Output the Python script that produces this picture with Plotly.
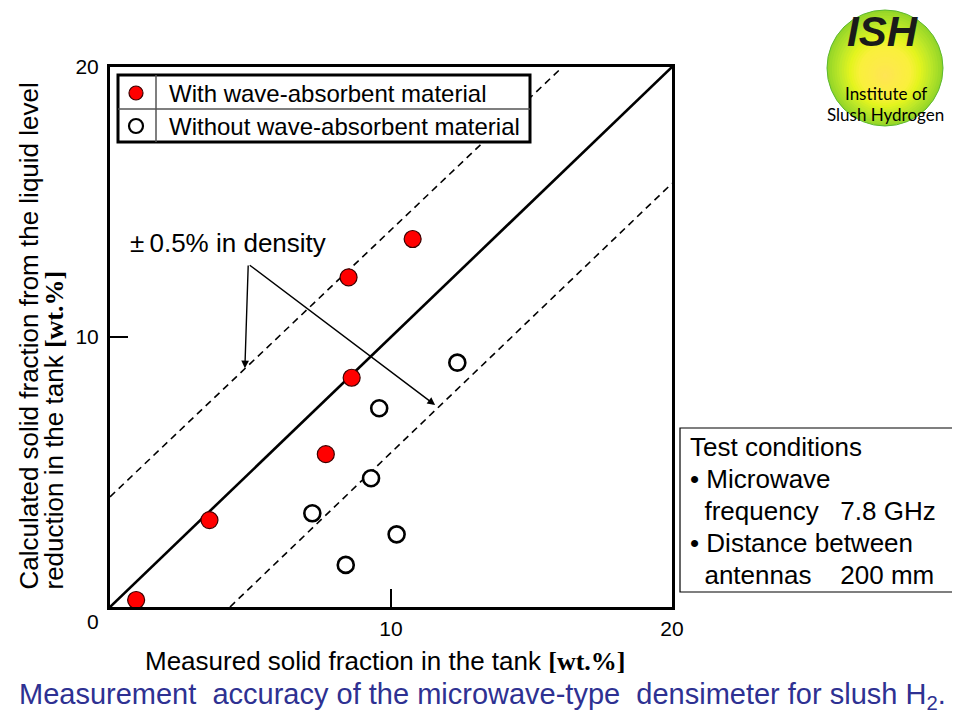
import plotly.graph_objects as go

# ---------------- data ----------------
with_x = [0.93, 3.54, 7.68, 8.60, 8.49, 10.77]
with_y = [0.26, 3.22, 5.66, 8.49, 12.21, 13.63]

without_x = [8.39, 10.20, 7.20, 9.29, 9.58, 12.36]
without_y = [1.56, 2.69, 3.47, 4.77, 7.36, 9.05]

ideal_x = [0, 20]
ideal_y = [0, 20]
upper_x = [0, 16.1]
upper_y = [4.08, 20]
lower_x = [4.27, 20]
lower_y = [0, 15.69]

tick_vals = [10, 20]
tick_text = ["10", "20"]

legend_labels = ["With wave-absorbent material", "Without wave-absorbent material"]
conditions = ["Test conditions",
              "\u2022 Microwave",
              "\u00a0\u00a0frequency\u00a0\u00a0\u00a07.8 GHz",
              "\u2022 Distance between",
              "\u00a0\u00a0antennas\u00a0\u00a0\u00a0\u00a0200 mm"]

# ---------------- layout helpers ----------------
# The page body has an 8px margin, so the figure starts at screen (8, 8).
OFF = 8
W, H = 960 - OFF, 720 - OFF
PL, PR, PT, PB = 110, 672, 67, 607          # plot area in screen pixels
L, T = PL - OFF, PT - OFF
R, B = W - (PR - OFF), H - (PB - OFF)
PW, PH = PR - PL, PB - PT


def px(x):
    return (x - PL) / PW


def py(y):
    return (PB - y) / PH


FONT = "Liberation Sans, Arial, sans-serif"

fig = go.Figure()

fig.add_trace(go.Scatter(x=ideal_x, y=ideal_y, mode="lines",
                         line=dict(color="black", width=2.6), showlegend=False, hoverinfo="skip"))
fig.add_trace(go.Scatter(x=upper_x, y=upper_y, mode="lines",
                         line=dict(color="black", width=1.6, dash="7px,5px"), showlegend=False, hoverinfo="skip"))
fig.add_trace(go.Scatter(x=lower_x, y=lower_y, mode="lines",
                         line=dict(color="black", width=1.6, dash="7px,5px"), showlegend=False, hoverinfo="skip"))
fig.add_trace(go.Scatter(x=with_x, y=with_y, mode="markers", name=legend_labels[0],
                         marker=dict(size=17, color="#FF0000", line=dict(color="#3a0000", width=1.2)),
                         showlegend=False))
fig.add_trace(go.Scatter(x=without_x, y=without_y, mode="markers", name=legend_labels[1],
                         marker=dict(size=16, color="white", line=dict(color="black", width=2.6)),
                         showlegend=False))

shapes = []
annotations = []

# legend table
lx0, lx1, ly0, ly1, ldiv, lmid = 118, 530, 75, 142, 156, 109
shapes.append(dict(type="rect", xref="paper", yref="paper", x0=px(lx0), x1=px(lx1), y0=py(ly1), y1=py(ly0),
                   line=dict(color="black", width=3), fillcolor="white", layer="above"))
shapes.append(dict(type="line", xref="paper", yref="paper", x0=px(ldiv), x1=px(ldiv), y0=py(ly1), y1=py(ly0),
                   line=dict(color="#555555", width=1.5), layer="above"))
shapes.append(dict(type="line", xref="paper", yref="paper", x0=px(lx0), x1=px(lx1), y0=py(lmid), y1=py(lmid),
                   line=dict(color="#555555", width=1.5), layer="above"))
for cy, fill, lc, lw in [(93, "#FF0000", "#3a0000", 1.2), (126, "white", "black", 2.2)]:
    r = 7
    shapes.append(dict(type="circle", xref="paper", yref="paper", x0=px(136 - r), x1=px(136 + r),
                       y0=py(cy + r), y1=py(cy - r), fillcolor=fill, line=dict(color=lc, width=lw), layer="above"))
for cy, txt in [(93, legend_labels[0]), (126, legend_labels[1])]:
    annotations.append(dict(xref="paper", yref="paper", x=px(167), y=py(cy), text=txt, showarrow=False,
                            xanchor="left", yanchor="middle", font=dict(family=FONT, size=24, color="black")))

# test conditions box
shapes.append(dict(type="rect", xref="paper", yref="paper", x0=px(680), x1=px(953), y0=py(592), y1=py(428),
                   line=dict(color="black", width=1.2), fillcolor="white"))
for i, txt in enumerate(conditions):
    annotations.append(dict(xref="paper", yref="paper", x=px(688), y=py(447 + 32 * i), text=txt, showarrow=False,
                            xanchor="left", yanchor="middle", font=dict(family=FONT, size=26, color="black")))

# ISH logo (approximate radial gradient by concentric circles)
stops = [(1.00, (150, 214, 40)), (0.80, (190, 232, 40)), (0.62, (228, 244, 30)),
         (0.45, (250, 240, 60)), (0.0, (255, 228, 85))]


def col(t):
    for (t1, c1), (t0, c0) in zip(stops[:-1], stops[1:]):
        if t0 <= t <= t1:
            f = (t - t0) / (t1 - t0)
            return "rgb(%d,%d,%d)" % tuple(round(c0[k] + (c1[k] - c0[k]) * f) for k in range(3))
    return "rgb(255,228,85)"


cx, cy, rad = 885, 68, 58
n = 24
for i in range(n):
    t = 1 - i / n
    rr = rad * t
    ocx, ocy = cx, cy + 8 * (1 - t)
    shapes.append(dict(type="circle", xref="paper", yref="paper", x0=px(ocx - rr), x1=px(ocx + rr),
                       y0=py(ocy + rr), y1=py(ocy - rr), fillcolor=col(t),
                       line=dict(color="#5cb82e" if i == 0 else col(t), width=1 if i == 0 else 0)))
annotations.append(dict(xref="paper", yref="paper", x=px(883), y=py(31), text="<b><i>ISH</i></b>",
                        showarrow=False, xanchor="center", yanchor="middle",
                        font=dict(family=FONT, size=42, color="#1a1a1a")))
annotations.append(dict(xref="paper", yref="paper", x=px(886), y=py(93), text="Institute of",
                        showarrow=False, xanchor="center", yanchor="middle",
                        font=dict(family="Lato, Open Sans, sans-serif", size=17, color="black")))
annotations.append(dict(xref="paper", yref="paper", x=px(885), y=py(114), text="Slush Hydrogen",
                        showarrow=False, xanchor="center", yanchor="middle",
                        font=dict(family="Lato, Open Sans, sans-serif", size=17, color="black")))

# density annotation and arrows
annotations.append(dict(xref="paper", yref="paper", x=px(128), y=py(243), text="\u00b1\u20090.5% in density",
                        showarrow=False, xanchor="left", yanchor="middle",
                        font=dict(family=FONT, size=26, color="black")))
for ex, ey in [(4.80, 8.84), (11.57, 7.48)]:
    annotations.append(dict(x=ex, y=ey, xref="x", yref="y", ax=4.92, ay=12.70, axref="x", ayref="y",
                            text="", showarrow=True, arrowhead=2, arrowsize=1.1, arrowwidth=1.4,
                            arrowcolor="black", standoff=0))

# axis titles
WT = "<span style='font-family:Liberation Serif, Times New Roman, serif'><b>[wt.%]</b></span>"
annotations.append(dict(xref="paper", yref="paper", x=px(28), y=py(592),
                        text="Calculated solid fraction from the liquid level", textangle=-90,
                        showarrow=False, xanchor="center", yanchor="bottom",
                        font=dict(family=FONT, size=26, color="black")))
annotations.append(dict(xref="paper", yref="paper", x=px(53), y=py(592),
                        text="reduction in the tank " + WT, textangle=-90,
                        showarrow=False, xanchor="center", yanchor="bottom",
                        font=dict(family=FONT, size=26, color="black")))
annotations.append(dict(xref="paper", yref="paper", x=px(385), y=py(661),
                        text="Measured solid fraction in the tank " + WT,
                        showarrow=False, xanchor="center", yanchor="middle",
                        font=dict(family=FONT, size=26, color="black")))
annotations.append(dict(xref="paper", yref="paper", x=px(93), y=py(621), text="0",
                        showarrow=False, xanchor="center", yanchor="middle",
                        font=dict(family=FONT, size=21, color="black")))

# caption
annotations.append(dict(xref="paper", yref="paper", x=px(482), y=py(696),
                        text="Measurement\u00a0 accuracy of the microwave-type\u00a0 densimeter for slush H<sub>2</sub>.",
                        showarrow=False, xanchor="center", yanchor="middle",
                        font=dict(family=FONT, size=29, color="#2E3192")))

axis_common = dict(range=[0, 20], showgrid=False, zeroline=False, showline=True, linecolor="black",
                   linewidth=3, mirror=True, ticks="inside", ticklen=18, tickwidth=1.8, tickcolor="black",
                   tickvals=tick_vals, ticktext=tick_text, tickfont=dict(family=FONT, size=21, color="black"),
                   fixedrange=True)

fig.update_layout(
    width=W, height=H, margin=dict(l=L, r=R, t=T, b=B, autoexpand=False),
    paper_bgcolor="white", plot_bgcolor="white",
    xaxis=dict(**axis_common, ticklabelstandoff=1),
    yaxis=dict(**axis_common, ticklabelstandoff=4),
    shapes=shapes, annotations=annotations, showlegend=False,
)

fig.write_html("out.html")
